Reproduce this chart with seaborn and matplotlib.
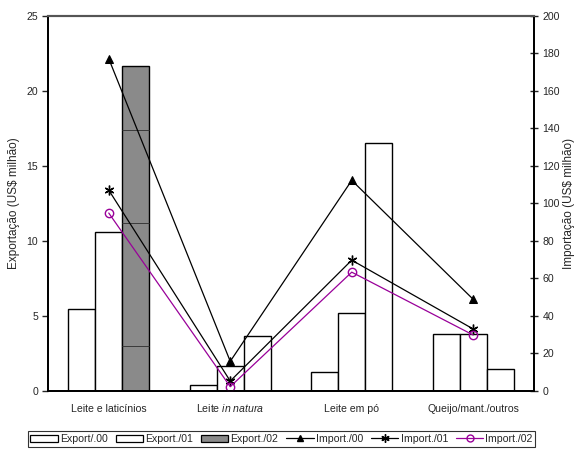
import matplotlib
matplotlib.use("Agg")
import matplotlib.pyplot as plt
import matplotlib.transforms as mtransforms
import numpy as np
import pandas as pd
import seaborn as sns
from matplotlib.patches import Patch
from matplotlib.lines import Line2D

# Dairy trade by product group (US$ million)
categories = ["Leite e laticínios", "Leite in natura", "Leite em pó", "Queijo/mant./outros"]
tick_labels = ["Leite e laticínios", "Leite $\\it{in\\ natura}$", "Leite em pó", "Queijo/mant./outros"]

export_00 = [5.45, 0.42, 1.24, 3.81]
export_01 = [10.6, 1.68, 5.17, 3.81]
export_02 = [21.63, 3.68, 16.5, 1.46]
# partial blocks shown inside the first Export./02 column
export_02_blocks = [3.0, 8.2, 6.15, 4.28]

import_00 = [177.0, 15.8, 112.2, 48.8]
import_01 = [107.0, 5.3, 69.7, 33.0]
import_02 = [94.8, 2.3, 63.3, 29.8]

export_names = ["Export/.00", "Export./01", "Export./02"]
import_names = ["Import./00", "Import./01", "Import./02"]

sns.set_style("white")
plt.rcParams["font.family"] = ["Liberation Sans", "DejaVu Sans"]
plt.rcParams["mathtext.fontset"] = "custom"
plt.rcParams["mathtext.rm"] = "Liberation Sans"
plt.rcParams["mathtext.it"] = "Liberation Sans:italic"

fs = 7.6
label_fs = 8.5

bars = pd.DataFrame({
    "category": [c for c in categories for _ in range(3)],
    "series": [s for _ in categories for s in export_names],
    "value": [v for trio in zip(export_00, export_01, export_02) for v in trio],
})

fig = plt.figure(figsize=(5.77, 4.5), dpi=100)
ax = fig.add_axes([48 / 577, 1 - 391 / 450, (534 - 48) / 577, (391 - 15.5) / 450])

sns.barplot(data=bars, x="category", y="value", hue="series", order=categories,
            hue_order=export_names, palette=["white", "white", "white"],
            edgecolor="black", linewidth=1.0, width=2 / 3, gap=0, saturation=1,
            legend=False, ax=ax)

# first Export./02 column is shaded and split into blocks
gray_patch = ax.containers[2][0]
gray_patch.set_facecolor("#8a8a8a")
x0 = gray_patch.get_x()
w = gray_patch.get_width()
for level in np.cumsum(export_02_blocks)[:-1]:
    ax.hlines(level, x0, x0 + w, color="#3a3a3a", linewidth=0.7, zorder=3)

ax.set_xlim(-0.5, 3.5)
ax.set_ylim(0, 25)
ax.set_yticks(np.arange(0, 26, 5))
ax.set_xticks(range(4))
ax.set_xticklabels([])
ax.set_xticks([0.5, 1.5, 2.5], minor=True)
ax.tick_params(axis="x", which="major", length=0)
ax.tick_params(axis="x", which="minor", length=6, width=1, direction="inout", color="black")
ax.tick_params(axis="y", length=4, width=1, direction="out", labelsize=fs, pad=3, left=True)
ax.set_xlabel("")
ax.set_ylabel("Exportação (US$ milhão)", fontsize=label_fs, labelpad=5)

# category names on a common baseline below the axis
label_tr = ax.get_xaxis_transform() + mtransforms.ScaledTranslation(0, -20.5 / 100, fig.dpi_scale_trans)
for i, lab in enumerate(tick_labels):
    ax.text(i, 0, lab, transform=label_tr, ha="center", va="baseline", fontsize=fs)

ax2 = ax.twinx()
line_styles = [
    (import_00, "black", dict(marker="^", markersize=6, markerfacecolor="black", markeredgecolor="black")),
    (import_01, "black", dict(marker=(6, 2, 0), markersize=7, markeredgewidth=1.0, markeredgecolor="black")),
    (import_02, "#990099", dict(marker="o", markersize=6, markerfacecolor="none", markeredgecolor="#990099", markeredgewidth=1.0)),
]
for vals, color, mk in line_styles:
    sns.lineplot(x=list(range(4)), y=vals, color=color, linewidth=0.9, ax=ax2, **mk)

ax2.set_ylim(0, 200)
ax2.set_yticks(np.arange(0, 201, 20))
ax2.tick_params(axis="y", length=6, width=1, direction="inout", labelsize=fs, pad=3, right=True)
ax2.set_ylabel("Importação (US$ milhão)", fontsize=label_fs, labelpad=2)

for a in (ax, ax2):
    for side in ("left", "bottom", "right"):
        a.spines[side].set_color("black")
        a.spines[side].set_linewidth(1.3)
    a.spines["top"].set_color("#555555")
    a.spines["top"].set_linewidth(1.5)

handles = [
    Patch(facecolor="white", edgecolor="black", linewidth=0.9),
    Patch(facecolor="white", edgecolor="black", linewidth=0.9),
    Patch(facecolor="#8a8a8a", edgecolor="black", linewidth=0.9),
    Line2D([], [], color="black", linewidth=0.9, marker="^", markersize=5),
    Line2D([], [], color="black", linewidth=0.9, marker=(6, 2, 0), markersize=6, markeredgewidth=1.0),
    Line2D([], [], color="#990099", linewidth=0.9, marker="o", markersize=5, markerfacecolor="none"),
]
leg = fig.legend(handles, export_names + import_names, loc="center",
                 bbox_to_anchor=(0.488, 1 - 439 / 450), ncol=6, fontsize=fs,
                 frameon=True, fancybox=False, handlelength=2.6, handleheight=0.7,
                 handletextpad=0.2, columnspacing=0.75, borderpad=0.25, borderaxespad=0)
leg.get_frame().set_edgecolor("black")
leg.get_frame().set_linewidth(0.8)

fig.savefig("out.png", dpi=100)
